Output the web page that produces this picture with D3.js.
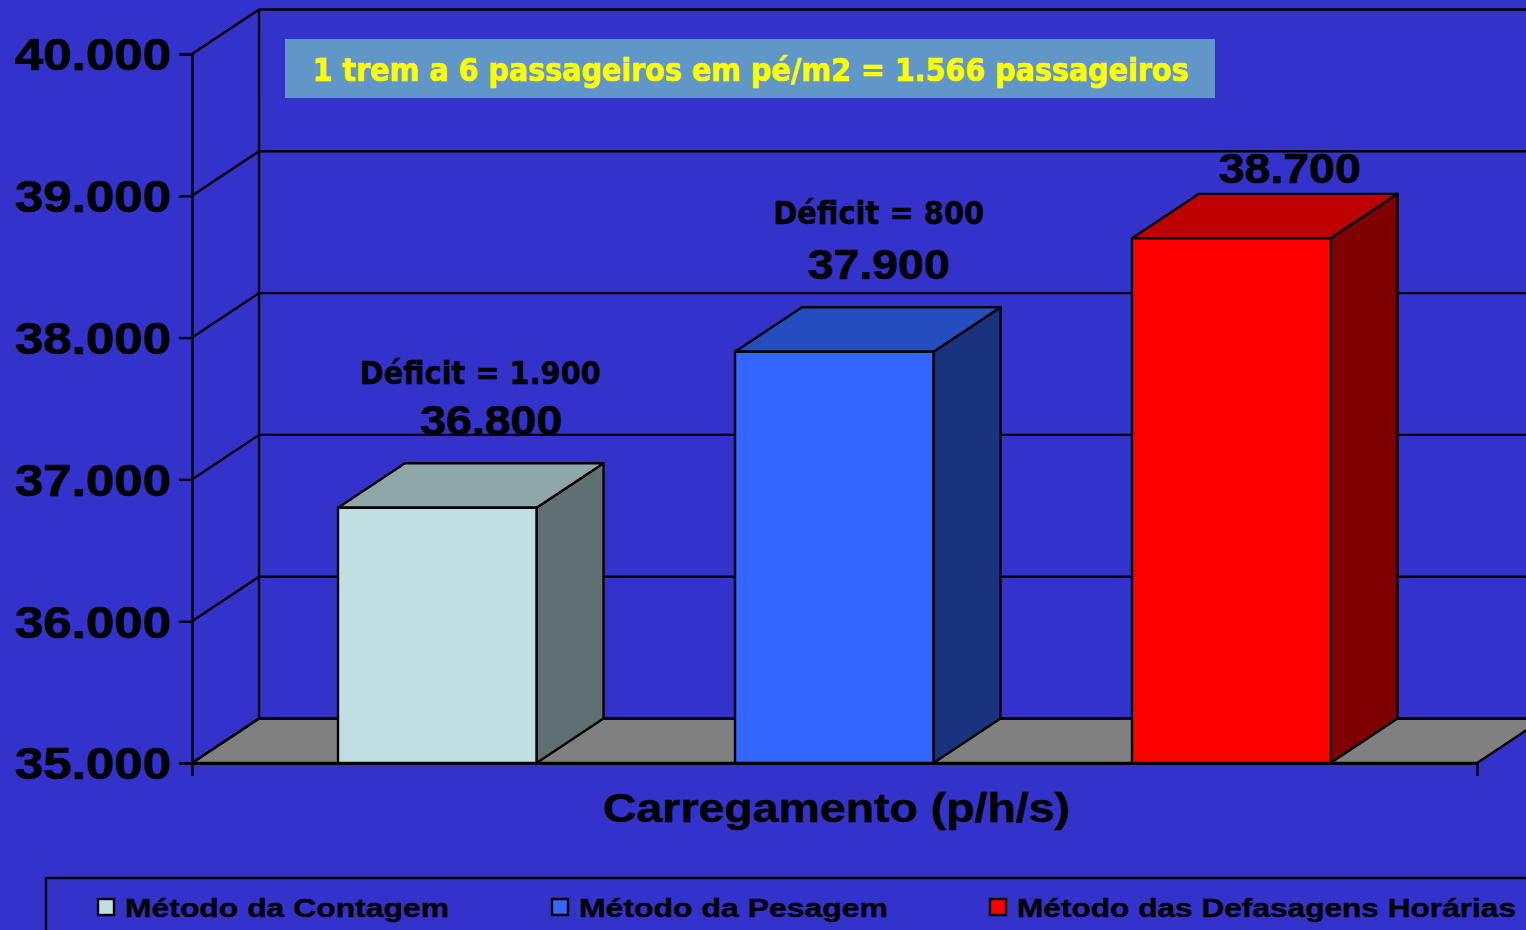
<!DOCTYPE html>
<html>

<head>
    <meta charset="UTF-8">
    <title>Carregamento (p/h/s)</title>
    <script src="https://d3js.org/d3.v7.min.js"></script>
    <style>
        html, body { margin: 0; padding: 0; background: #3333cc; overflow: hidden; }
        svg { display: block; }
        text { fill: #000; font-weight: bold; }
    </style>
</head>

<body>
    <script>
        // chart values
        const categories = ["Método da Contagem", "Método da Pesagem", "Método das Defasagens Horárias"];
        const values = [36800, 37900, 38700];
        const deficits = ["Déficit = 1.900", "Déficit = 800", ""];
        const yTicks = [35000, 36000, 37000, 38000, 39000, 40000];
        const frontColors = ["#c0dfe3", "#3366ff", "#ff0000"];
        const topColors = ["#90a7aa", "#264dbf", "#bf0000"];
        const sideColors = ["#607072", "#19337f", "#7f0000"];
        const xTitle = "Carregamento (p/h/s)";
        const note = "1 trem a 6 passageiros em pé/m2 = 1.566 passageiros";

        const width = 1526;
        const height = 930;
        const depthX = 67;   // 3d offset of the back wall
        const depthY = -44.5;
        const lineW = 2.4;
        const armo = "'Liberation Sans', Arial, sans-serif";
        const verd = "'DejaVu Sans', Verdana, sans-serif";

        const svg = d3.select("body").append("svg")
            .attr("width", width)
            .attr("height", height);

        svg.append("rect")
            .attr("width", width)
            .attr("height", height)
            .attr("fill", "#3333cc");

        // scales
        const y = d3.scaleLinear().domain([35000, 40000]).range([763, 54]);
        const x = d3.scaleBand()
            .domain(categories)
            .range([238.75, 1429.75])
            .paddingInner(0.5)
            .paddingOuter(0.25);
        const axisLeftX = 192;
        const axisRightX = 1477;

        const ptBr = d3.formatLocale({ decimal: ",", thousands: ".", grouping: [3], currency: ["", ""] });
        const fmt = ptBr.format(",d");
        const line = d3.line();

        // floor
        svg.append("path")
            .attr("d", line([
                [axisLeftX, y(35000)],
                [axisLeftX + depthX, y(35000) + depthY],
                [axisRightX + depthX, y(35000) + depthY],
                [axisRightX, y(35000)]
            ]) + "Z")
            .attr("fill", "#808080")
            .attr("stroke", "#000")
            .attr("stroke-width", lineW);

        // back wall lines and the diagonals on the side wall
        const grid = svg.append("g")
            .attr("fill", "none")
            .attr("stroke", "#000")
            .attr("stroke-width", lineW);

        grid.selectAll(".back")
            .data(yTicks)
            .join("line")
            .attr("class", "back")
            .attr("x1", axisLeftX + depthX)
            .attr("x2", axisRightX + depthX)
            .attr("y1", function (d) { return y(d) + depthY; })
            .attr("y2", function (d) { return y(d) + depthY; });

        grid.selectAll(".diag")
            .data(yTicks)
            .join("line")
            .attr("class", "diag")
            .attr("x1", axisLeftX)
            .attr("x2", axisLeftX + depthX)
            .attr("y1", function (d) { return y(d); })
            .attr("y2", function (d) { return y(d) + depthY; });

        grid.append("line")
            .attr("x1", axisLeftX + depthX)
            .attr("x2", axisLeftX + depthX)
            .attr("y1", y(40000) + depthY)
            .attr("y2", y(35000) + depthY);

        // y axis
        const yAxis = svg.append("g")
            .attr("transform", "translate(" + axisLeftX + ",0)")
            .call(d3.axisLeft(y).tickValues(yTicks).tickFormat(fmt).tickSize(13).tickPadding(8));
        yAxis.selectAll("line").attr("stroke", "#000").attr("stroke-width", lineW);
        yAxis.select(".domain").attr("stroke", "#000").attr("stroke-width", lineW);
        yAxis.selectAll("text")
            .attr("font-family", armo)
            .attr("font-size", 44)
            .attr("textLength", 156)
            .attr("lengthAdjust", "spacingAndGlyphs")
            .attr("dy", "0.36em")
            .attr("stroke", "#000")
            .attr("stroke-width", 0.7)
            .attr("fill", "#000");

        // x axis, ticks only at both ends
        const xEdge = d3.scaleLinear().domain([0, 1]).range([axisLeftX, axisRightX]);
        const xAxis = svg.append("g")
            .attr("transform", "translate(0," + y(35000) + ")")
            .call(d3.axisBottom(xEdge).tickValues([0, 1]).tickFormat("").tickSize(13).tickSizeOuter(0));
        xAxis.selectAll("line").attr("stroke", "#000").attr("stroke-width", lineW);
        xAxis.select(".domain").attr("stroke", "#000").attr("stroke-width", 3);

        // bars: side, top and front faces
        const bars = svg.append("g")
            .attr("stroke", "#000")
            .attr("stroke-width", lineW)
            .attr("stroke-linejoin", "round");

        categories.forEach(function (c, i) {
            const x0 = x(c);
            const x1 = x0 + x.bandwidth();
            const y0 = y(35000);
            const y1 = y(values[i]);

            bars.append("path")
                .attr("d", line([[x1, y1], [x1 + depthX, y1 + depthY], [x1 + depthX, y0 + depthY], [x1, y0]]) + "Z")
                .attr("fill", sideColors[i]);
            bars.append("path")
                .attr("d", line([[x0, y1], [x0 + depthX, y1 + depthY], [x1 + depthX, y1 + depthY], [x1, y1]]) + "Z")
                .attr("fill", topColors[i]);
            bars.append("rect")
                .attr("x", x0)
                .attr("y", y1)
                .attr("width", x1 - x0)
                .attr("height", y0 - y1)
                .attr("fill", frontColors[i]);
        });

        // value labels above the bars
        const valueShift = [[54, -73], [44.5, -73], [58.5, -55]];
        svg.selectAll(".value")
            .data(values)
            .join("text")
            .attr("class", "value")
            .attr("x", function (d, i) { return x(categories[i]) + x.bandwidth() / 2 + valueShift[i][0]; })
            .attr("y", function (d, i) { return y(d) + valueShift[i][1]; })
            .attr("text-anchor", "middle")
            .attr("font-family", armo)
            .attr("font-size", 42)
            .attr("textLength", 142)
            .attr("lengthAdjust", "spacingAndGlyphs")
            .attr("stroke", "#000")
            .attr("stroke-width", 0.7)
            .text(function (d) { return fmt(d); });

        const deficitShift = [[43, -124], [44.5, -128]];
        svg.selectAll(".deficit")
            .data(deficits.filter(function (d) { return d; }))
            .join("text")
            .attr("class", "deficit")
            .attr("x", function (d, i) { return x(categories[i]) + x.bandwidth() / 2 + deficitShift[i][0]; })
            .attr("y", function (d, i) { return y(values[i]) + deficitShift[i][1]; })
            .attr("text-anchor", "middle")
            .attr("font-family", verd)
            .attr("font-size", 32)
            .attr("textLength", function (d, i) { return i === 0 ? 241 : 211; })
            .attr("lengthAdjust", "spacingAndGlyphs")
            .attr("stroke", "#000")
            .attr("stroke-width", 0.5)
            .text(function (d) { return d; });

        // note box
        svg.append("rect")
            .attr("x", 285)
            .attr("y", 39)
            .attr("width", 930)
            .attr("height", 59)
            .attr("fill", "#6096c8");
        svg.append("text")
            .attr("x", 750.5)
            .attr("y", 81)
            .attr("text-anchor", "middle")
            .attr("font-family", verd)
            .attr("font-size", 32)
            .attr("textLength", 876)
            .attr("lengthAdjust", "spacingAndGlyphs")
            .attr("stroke", "#ffff00")
            .attr("stroke-width", 0.7)
            .style("fill", "#ffff00")
            .text(note);

        // axis title
        svg.append("text")
            .attr("x", 836.5)
            .attr("y", 822)
            .attr("text-anchor", "middle")
            .attr("font-family", armo)
            .attr("font-size", 41)
            .attr("textLength", 467)
            .attr("lengthAdjust", "spacingAndGlyphs")
            .attr("stroke", "#000")
            .attr("stroke-width", 0.5)
            .text(xTitle);

        // legend, runs off the page at the right and bottom
        svg.append("rect")
            .attr("x", 46)
            .attr("y", 878)
            .attr("width", 1600)
            .attr("height", 120)
            .attr("fill", "none")
            .attr("stroke", "#000")
            .attr("stroke-width", lineW);

        const legendX = [98, 552, 990];
        const legendLen = [324, 309, 499];
        const legend = svg.selectAll(".legend")
            .data(categories)
            .join("g")
            .attr("class", "legend")
            .attr("transform", function (d, i) { return "translate(" + legendX[i] + ",899)"; });
        legend.append("rect")
            .attr("width", 16)
            .attr("height", 16)
            .attr("fill", function (d, i) { return frontColors[i]; })
            .attr("stroke", "#000")
            .attr("stroke-width", lineW);
        legend.append("text")
            .attr("x", 27)
            .attr("y", 18)
            .attr("font-family", armo)
            .attr("font-size", 26)
            .attr("textLength", function (d, i) { return legendLen[i]; })
            .attr("lengthAdjust", "spacingAndGlyphs")
            .attr("stroke", "#000")
            .attr("stroke-width", 0.4)
            .text(function (d) { return d; });
    </script>
</body>

</html>
